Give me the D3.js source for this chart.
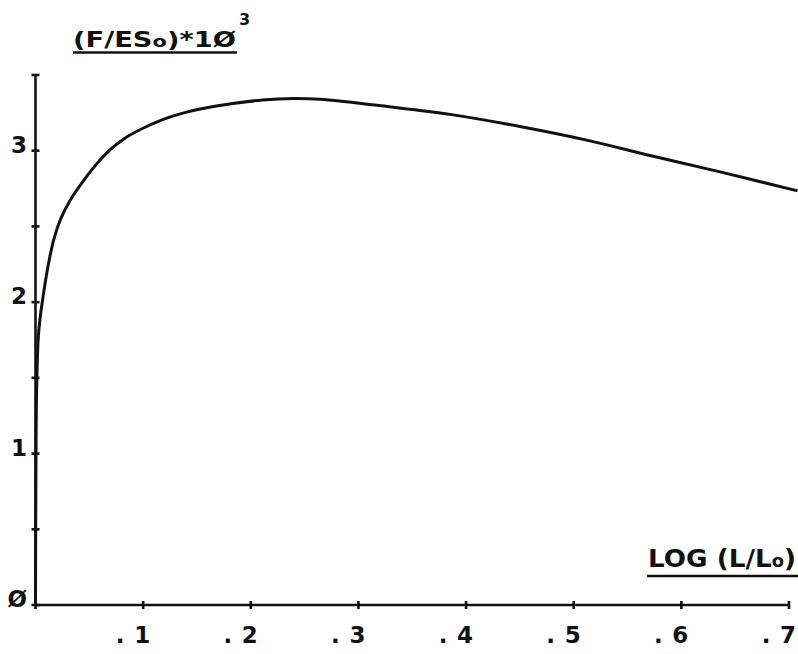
<!DOCTYPE html>
<html>
<head>
<meta charset="utf-8">
<script src="https://cdn.jsdelivr.net/npm/d3@7"></script>
<style>
  html, body { margin: 0; padding: 0; background: #fff; }
  svg { display: block; }
  .lbl { font-family: "DejaVu Sans", sans-serif; font-weight: bold; fill: #111; }
</style>
</head>
<body>
<svg id="chart" width="798" height="654"></svg>
<script>
// Normalised force versus log stretch ratio
const logRatio = [0, 0.0004, 0.001, 0.0026, 0.0042, 0.0067, 0.0095, 0.0125, 0.0172, 0.0234,
                  0.032, 0.046, 0.0553, 0.0692, 0.0847, 0.1033, 0.1219, 0.1404, 0.168, 0.211,
                  0.24, 0.264, 0.329, 0.385, 0.45, 0.512, 0.573, 0.636, 0.708];
const forceValues = [0, 0.9, 1.4, 1.77, 1.89, 2.02, 2.15, 2.27, 2.42, 2.55,
                     2.67, 2.815, 2.90, 3.005, 3.09, 3.16, 3.215, 3.255, 3.295, 3.335,
                     3.345, 3.34, 3.29, 3.24, 3.16, 3.07, 2.965, 2.86, 2.735];

const xTicks = [0.1, 0.2, 0.3, 0.4, 0.5, 0.6, 0.7];
const xTickDigits = ["1", "2", "3", "4", "5", "6", "7"];
const yTicks = [0, 0.5, 1, 1.5, 2, 2.5, 3, 3.5];
const yLabelValues = [0, 1, 2, 3];
const yTickLabels = ["Ø", "1", "2", "3"];

const svg = d3.select("#chart");
const x = d3.scaleLinear().domain([0, 0.7]).range([35.5, 789]);
const y = d3.scaleLinear().domain([0, 3.5]).range([605, 75]);
const ink = "#111";

// axes lines
svg.append("line").attr("x1", x(0)).attr("x2", x(0.7)).attr("y1", y(0)).attr("y2", y(0))
  .attr("stroke", ink).attr("stroke-width", 2.6);
svg.append("line").attr("x1", x(0)).attr("x2", x(0)).attr("y1", y(0)).attr("y2", y(3.5))
  .attr("stroke", ink).attr("stroke-width", 2.6);

// y ticks: short bars across the axis
svg.selectAll(".ytick").data(yTicks).join("line")
  .attr("x1", x(0) - 4).attr("x2", x(0) + 4)
  .attr("y1", d => y(d)).attr("y2", d => y(d))
  .attr("stroke", ink).attr("stroke-width", 2.6);

// x ticks
svg.selectAll(".xtick").data([0].concat(xTicks)).join("line")
  .attr("x1", d => x(d)).attr("x2", d => x(d))
  .attr("y1", y(0) - 4).attr("y2", y(0) + 4)
  .attr("stroke", ink).attr("stroke-width", 2.6);

// y labels
svg.selectAll(".ylab").data(yLabelValues).join("text")
  .attr("class", "lbl")
  .attr("x", 27).attr("y", d => y(d) + 2)
  .attr("text-anchor", "end")
  .attr("font-size", 23)
  .text((d, i) => yTickLabels[i]);

// x labels: a dot, a gap, then the digit centred on the tick
const xl = svg.selectAll(".xlab").data(xTicks).join("g");
xl.append("text").attr("class", "lbl")
  .attr("x", d => x(d) - 23).attr("y", 643)
  .attr("text-anchor", "middle").attr("font-size", 23).text(".");
xl.append("text").attr("class", "lbl")
  .attr("x", d => x(d) - 1).attr("y", 643)
  .attr("text-anchor", "middle").attr("font-size", 23)
  .text((d, i) => xTickDigits[i]);

// y-axis title with superscript, underlined
const title = svg.append("text").attr("class", "lbl").attr("font-size", 21)
  .attr("x", 73).attr("y", 47).attr("textLength", 163).attr("lengthAdjust", "spacingAndGlyphs");
title.append("tspan").text("(F/ES");
title.append("tspan").attr("font-size", 16).text("o");
title.append("tspan").text(")*1Ø");
svg.append("text").attr("class", "lbl").attr("font-size", 16)
  .attr("x", 239).attr("y", 25).text("3");
svg.append("line").attr("x1", 73).attr("x2", 237).attr("y1", 52.5).attr("y2", 52.5)
  .attr("stroke", ink).attr("stroke-width", 2.6);

// x-axis title, underlined
const xt = svg.append("text").attr("class", "lbl").attr("font-size", 25)
  .attr("x", 648).attr("y", 567).attr("textLength", 148).attr("lengthAdjust", "spacingAndGlyphs");
xt.append("tspan").text("LOG (L/L");
xt.append("tspan").attr("font-size", 17).text("o");
xt.append("tspan").text(")");
svg.append("line").attr("x1", 647).attr("x2", 798).attr("y1", 576).attr("y2", 576)
  .attr("stroke", ink).attr("stroke-width", 2.6);

// force curve
const pts = logRatio.map((v, i) => [v, forceValues[i]]);
const line = d3.line().x(d => x(d[0])).y(d => y(d[1])).curve(d3.curveCatmullRom.alpha(0.5));
svg.append("path").datum(pts)
  .attr("d", line)
  .attr("fill", "none").attr("stroke", ink).attr("stroke-width", 3)
  .attr("stroke-linejoin", "round");
</script>
</body>
</html>
